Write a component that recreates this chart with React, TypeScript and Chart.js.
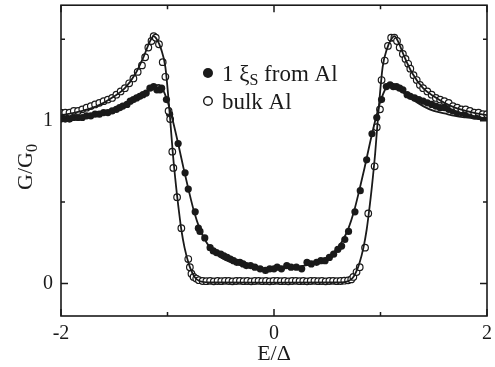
import React, { useEffect, useRef } from "react";
import { Chart, registerables } from "chart.js";

Chart.register(...registerables);

// ---- data ----
const bulkE = [
  -2.0, -1.96, -1.92, -1.88, -1.84, -1.8, -1.76, -1.72, -1.68, -1.64, -1.6, -1.56, -1.52, -1.48, -1.44, -1.4,
  -1.36, -1.32, -1.28, -1.24, -1.21, -1.18, -1.15, -1.13, -1.11, -1.08, -1.045, -1.02, -0.99, -0.975, -0.955,
  -0.945, -0.91, -0.87, -0.805, -0.79, -0.775, -0.755, -0.73, -0.705,
  -0.67, -0.635, -0.6, -0.565, -0.53, -0.495, -0.46, -0.425, -0.39, -0.355, -0.32, -0.285, -0.25, -0.215,
  -0.18, -0.145, -0.11, -0.075, -0.04, -0.005, 0.03, 0.065, 0.1, 0.135, 0.17, 0.205, 0.24, 0.275, 0.31,
  0.345, 0.38, 0.415, 0.45, 0.485, 0.52, 0.555, 0.59, 0.625, 0.66, 0.695,
  0.725, 0.745, 0.775, 0.805, 0.855, 0.885, 0.945, 0.965, 0.995, 1.01, 1.04, 1.07, 1.1, 1.13, 1.155, 1.18,
  1.21, 1.235, 1.26, 1.28, 1.31, 1.34, 1.37, 1.4, 1.44, 1.48, 1.52, 1.56, 1.6, 1.64, 1.68, 1.72, 1.76, 1.8,
  1.84, 1.88, 1.92, 1.96, 2.0,
];
const bulkG = [
  1.05, 1.05, 1.05, 1.06, 1.06, 1.07, 1.08, 1.09, 1.1, 1.11, 1.12, 1.13, 1.14, 1.16, 1.18, 1.2,
  1.23, 1.26, 1.3, 1.34, 1.39, 1.45, 1.49, 1.52, 1.51, 1.47, 1.36, 1.27, 1.06, 1.01, 0.81,
  0.71, 0.53, 0.34, 0.15, 0.1, 0.06, 0.04, 0.03, 0.02,
  0.015, 0.014, 0.016, 0.013, 0.015, 0.014, 0.016, 0.015, 0.013, 0.015, 0.016, 0.014, 0.015, 0.013,
  0.015, 0.016, 0.014, 0.015, 0.013, 0.015, 0.016, 0.014, 0.015, 0.013, 0.015, 0.016, 0.014, 0.015, 0.013,
  0.015, 0.016, 0.014, 0.015, 0.013, 0.015, 0.016, 0.014, 0.015, 0.017, 0.019,
  0.025, 0.04, 0.07, 0.1, 0.22, 0.43, 0.72, 0.96, 1.07, 1.25, 1.37, 1.46, 1.51, 1.51, 1.49, 1.45,
  1.41, 1.38, 1.35, 1.32, 1.28, 1.25, 1.22, 1.2, 1.18, 1.16, 1.14, 1.13, 1.12, 1.11, 1.09, 1.08, 1.07, 1.07,
  1.06, 1.05, 1.05, 1.04, 1.04,
];

const xiE = [
  -2.0, -1.96, -1.92, -1.88, -1.84, -1.8, -1.76, -1.72, -1.68, -1.64, -1.6, -1.56, -1.52, -1.48, -1.45, -1.42,
  -1.38, -1.35, -1.32, -1.29, -1.26, -1.23, -1.2, -1.165, -1.13, -1.1, -1.07, -1.055, -1.01, -0.98, -0.9,
  -0.835, -0.805, -0.74, -0.71, -0.695, -0.65, -0.6, -0.57, -0.54, -0.5, -0.47, -0.44, -0.41, -0.38, -0.35,
  -0.32, -0.29, -0.26, -0.22, -0.18, -0.13, -0.08, -0.04, 0.0, 0.03, 0.07, 0.12, 0.16, 0.21, 0.26, 0.31,
  0.35, 0.4, 0.44, 0.48, 0.52, 0.56, 0.6, 0.635, 0.665, 0.7, 0.76, 0.81, 0.87, 0.92, 0.965, 1.01, 1.055,
  1.09, 1.12, 1.15, 1.18, 1.21, 1.25, 1.28, 1.32, 1.36, 1.4, 1.44, 1.48, 1.52, 1.56, 1.6, 1.64, 1.68, 1.72,
  1.76, 1.8, 1.84, 1.88, 1.92, 1.96, 2.0,
];
const xiG = [
  1.01, 1.01, 1.01, 1.02, 1.02, 1.02, 1.03, 1.03, 1.04, 1.04, 1.05, 1.05, 1.06, 1.07, 1.08, 1.09,
  1.1, 1.12, 1.13, 1.14, 1.15, 1.16, 1.17, 1.2, 1.21, 1.19, 1.19, 1.2, 1.13, 1.04, 0.86,
  0.68, 0.58, 0.44, 0.34, 0.32, 0.28, 0.22, 0.2, 0.19, 0.18, 0.17, 0.16, 0.15, 0.14, 0.13,
  0.13, 0.12, 0.11, 0.11, 0.1, 0.09, 0.08, 0.09, 0.09, 0.1, 0.09, 0.11, 0.1, 0.1, 0.09, 0.13,
  0.12, 0.13, 0.14, 0.14, 0.16, 0.18, 0.21, 0.23, 0.27, 0.32, 0.44, 0.57, 0.76, 0.92, 1.02, 1.13, 1.21,
  1.22, 1.21, 1.21, 1.2, 1.19, 1.16, 1.15, 1.14, 1.13, 1.12, 1.11, 1.1, 1.09, 1.08, 1.08, 1.07, 1.06, 1.05,
  1.05, 1.04, 1.04, 1.03, 1.03, 1.02, 1.02,
];

// fit curves
const bulkFitE = [
  -2.0, -1.9, -1.8, -1.7, -1.6, -1.5, -1.4, -1.3, -1.22, -1.17, -1.13, -1.1, -1.06, -1.02, -0.98, -0.95,
  -0.92, -0.89, -0.87, -0.84, -0.8, -0.77, -0.74, -0.7, -0.6, 0.0, 0.6, 0.7, 0.74, 0.77, 0.8, 0.84, 0.87,
  0.89, 0.92, 0.95, 0.98, 1.02, 1.06, 1.1, 1.13, 1.17, 1.22, 1.3, 1.4, 1.5, 1.6, 1.7, 1.8, 1.9, 2.0,
];
const bulkFitG = [
  1.035, 1.045, 1.06, 1.08, 1.11, 1.15, 1.2, 1.29, 1.4, 1.48, 1.52, 1.5, 1.44, 1.33, 1.05, 0.8,
  0.6, 0.43, 0.33, 0.22, 0.12, 0.07, 0.035, 0.015, 0.006, 0.005, 0.006, 0.015, 0.035, 0.07, 0.12, 0.22, 0.33,
  0.43, 0.6, 0.8, 1.05, 1.33, 1.44, 1.5, 1.52, 1.48, 1.4, 1.29, 1.2, 1.15, 1.11, 1.08, 1.06, 1.045, 1.035,
];
const xiFitE = [
  -2.0, -1.9, -1.8, -1.7, -1.6, -1.5, -1.4, -1.3, -1.2, -1.12, -1.08, -1.05, -1.0, -0.95, -0.9, -0.85, -0.8,
  -0.75, -0.7, -0.65, -0.6, -0.55, -0.5, -0.4, -0.2, 0.0, 0.2, 0.4, 0.5, 0.55, 0.6, 0.65, 0.7, 0.75, 0.8,
  0.85, 0.9, 0.95, 1.0, 1.05, 1.08, 1.12, 1.2, 1.3, 1.4, 1.5, 1.6, 1.7, 1.8, 1.9, 2.0,
];
const xiFitG = [
  1.005, 1.012, 1.02, 1.03, 1.045, 1.06, 1.09, 1.13, 1.18, 1.215, 1.22, 1.2, 1.12, 1.0, 0.86, 0.71, 0.57,
  0.44, 0.34, 0.27, 0.22, 0.185, 0.16, 0.13, 0.1, 0.09, 0.1, 0.13, 0.16, 0.185, 0.22, 0.27, 0.34, 0.44, 0.57,
  0.71, 0.86, 1.0, 1.12, 1.2, 1.22, 1.215, 1.18, 1.13, 1.09, 1.06, 1.045, 1.03, 1.02, 1.012, 1.005,
];

const xMajor = [-2, 0, 2];
const xMinor = [-1, 1];
const yMajor = [0, 1];
const yMinor = [0.5, 1.5];
const xTitle = "E/Δ";
const yTitleMain = "G/G";
const yTitleSub = "0";
const legendA = { pre: "1 ξ", sub: "S", post: " from Al" };
const legendB = "bulk Al";

const FONT = "'Liberation Serif', 'Times New Roman', serif";
const INK = "#1a1a1a";

const pts = (xs: number[], ys: number[]) => xs.map((x, i) => ({ x, y: ys[i] }));

const framePlugin = {
  id: "frame",
  afterDraw(chart: any) {
    const { ctx, chartArea: a, scales } = chart;
    ctx.save();
    ctx.strokeStyle = INK;
    ctx.lineWidth = 1.6;
    ctx.strokeRect(a.left, a.top, a.right - a.left, a.bottom - a.top);
    ctx.lineWidth = 1.5;
    const xs = scales.x;
    const ys = scales.y;
    const drawX = (v: number, len: number) => {
      const p = xs.getPixelForValue(v);
      ctx.beginPath();
      ctx.moveTo(p, a.bottom);
      ctx.lineTo(p, a.bottom - len);
      ctx.moveTo(p, a.top);
      ctx.lineTo(p, a.top + len);
      ctx.stroke();
    };
    const drawY = (v: number, len: number) => {
      const p = ys.getPixelForValue(v);
      ctx.beginPath();
      ctx.moveTo(a.left, p);
      ctx.lineTo(a.left + len, p);
      ctx.moveTo(a.right, p);
      ctx.lineTo(a.right - len, p);
      ctx.stroke();
    };
    xMajor.forEach((v) => drawX(v, 7));
    xMinor.forEach((v) => drawX(v, 4));
    yMajor.forEach((v) => drawY(v, 7));
    yMinor.forEach((v) => drawY(v, 4));

    // axis titles
    ctx.fillStyle = INK;
    ctx.font = `22px ${FONT}`;
    ctx.textAlign = "center";
    ctx.textBaseline = "alphabetic";
    ctx.fillText(xTitle, (a.left + a.right) / 2, 360);

    ctx.save();
    ctx.translate(32, 167);
    ctx.rotate(-Math.PI / 2);
    ctx.font = `22px ${FONT}`;
    const wMain = ctx.measureText(yTitleMain).width;
    ctx.font = `16px ${FONT}`;
    const wSub = ctx.measureText(yTitleSub).width;
    const start = -(wMain + wSub) / 2;
    ctx.textAlign = "left";
    ctx.font = `22px ${FONT}`;
    ctx.fillText(yTitleMain, start, 0);
    ctx.font = `16px ${FONT}`;
    ctx.fillText(yTitleSub, start + wMain, 5);
    ctx.restore();

    // legend
    const lx = a.left + (a.right - a.left) * 0.345;
    const ly1 = 73;
    const ly2 = 101;
    ctx.beginPath();
    ctx.arc(lx, ly1, 5, 0, Math.PI * 2);
    ctx.fillStyle = INK;
    ctx.fill();
    ctx.beginPath();
    ctx.arc(lx, ly2, 4.3, 0, Math.PI * 2);
    ctx.fillStyle = "#fff";
    ctx.fill();
    ctx.lineWidth = 1.4;
    ctx.strokeStyle = INK;
    ctx.stroke();

    ctx.fillStyle = INK;
    ctx.textAlign = "left";
    let tx = lx + 14;
    ctx.font = `23px ${FONT}`;
    ctx.fillText(legendA.pre, tx, ly1 + 8);
    tx += ctx.measureText(legendA.pre).width;
    ctx.font = `16px ${FONT}`;
    ctx.fillText(legendA.sub, tx, ly1 + 12);
    tx += ctx.measureText(legendA.sub).width;
    ctx.font = `23px ${FONT}`;
    ctx.fillText(legendA.post, tx, ly1 + 8);
    ctx.fillText(legendB, lx + 14, ly2 + 8);
    ctx.restore();
  },
};

export default function App() {
  const ref = useRef<HTMLCanvasElement | null>(null);
  useEffect(() => {
    if (!ref.current) return;
    const chart = new Chart(ref.current, {
      type: "scatter",
      data: {
        datasets: [
          {
            label: "fit bulk",
            data: pts(bulkFitE, bulkFitG),
            showLine: true,
            borderColor: INK,
            borderWidth: 1.8,
            pointRadius: 0,
            cubicInterpolationMode: "monotone",
          } as any,
          {
            label: "fit xi",
            data: pts(xiFitE, xiFitG),
            showLine: true,
            borderColor: INK,
            borderWidth: 1.8,
            pointRadius: 0,
            cubicInterpolationMode: "monotone",
          } as any,
          {
            label: "bulk Al",
            data: pts(bulkE, bulkG),
            pointRadius: 3.3,
            pointBackgroundColor: "#ffffff",
            pointBorderColor: INK,
            pointBorderWidth: 1.2,
          },
          {
            label: "1 ξS from Al",
            data: pts(xiE, xiG),
            pointRadius: 3.6,
            pointBackgroundColor: INK,
            pointBorderColor: INK,
            pointBorderWidth: 0,
          },
        ],
      },
      options: {
        responsive: false,
        animation: false,
        layout: { padding: { top: 4, right: 8, left: 0, bottom: 0 } },
        plugins: { legend: { display: false }, tooltip: { enabled: false } },
        scales: {
          x: {
            type: "linear",
            min: -2,
            max: 2,
            grid: { display: false, drawTicks: false },
            border: { display: false },
            afterBuildTicks: (s: any) => {
              s.ticks = xMajor.map((v) => ({ value: v }));
            },
            afterFit: (s: any) => {
              s.height = 51;
              s.paddingLeft = 0;
              s.paddingRight = 0;
            },
            ticks: {
              callback: (v: any) => String(v),
              font: { family: FONT, size: 20 },
              color: INK,
              padding: 6,
              maxRotation: 0,
            },
          },
          y: {
            type: "linear",
            min: -0.2,
            max: 1.71,
            grid: { display: false, drawTicks: false },
            border: { display: false },
            afterBuildTicks: (s: any) => {
              s.ticks = yMajor.map((v) => ({ value: v }));
            },
            afterFit: (s: any) => {
              s.width = 61;
              s.paddingTop = 0;
              s.paddingBottom = 0;
            },
            ticks: {
              callback: (v: any) => String(v),
              font: { family: FONT, size: 20 },
              color: INK,
              padding: 8,
            },
          },
        },
      },
      plugins: [framePlugin],
    });
    return () => chart.destroy();
  }, []);
  return (
    <div style={{ position: "fixed", left: 0, top: 0, width: 495, height: 367, background: "#fff" }}>
      <canvas ref={ref} width={495} height={367} style={{ display: "block" }} />
    </div>
  );
}
